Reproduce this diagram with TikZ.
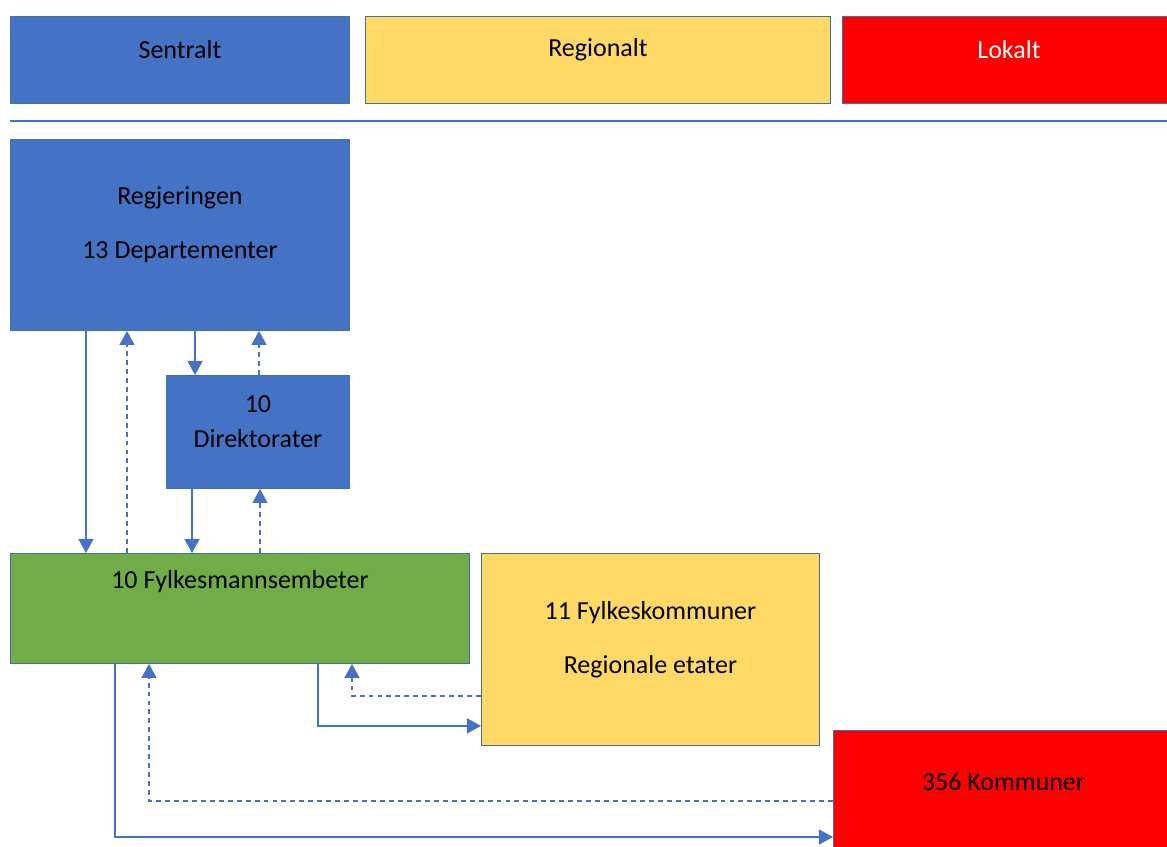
\documentclass[tikz,border=0pt]{standalone}
\usepackage{fontspec}
\setmainfont{Carlito}
\usetikzlibrary{arrows.meta,calc}

\definecolor{sentblue}{HTML}{4472C4}
\definecolor{regyellow}{HTML}{FFD966}
\definecolor{lokred}{HTML}{FF0000}
\definecolor{fmgreen}{HTML}{70AD47}
\definecolor{edge}{HTML}{41719C}

\newlength\px
\setlength\px{0.02cm}

\begin{document}
\begin{tikzpicture}[x=0.02cm, y=-0.02cm, font=\fontsize{14.8}{19.8}\selectfont,
    box/.style = {draw=edge, line width=0.5pt, anchor=north west, inner sep=0pt},
    txt/.style = {align=center, yshift=10\px},
    arr/.style = {draw=sentblue, line width=1pt, -{Triangle[length=8pt, width=8.5pt]}},
    back/.style = {arr, dash pattern=on 2.8pt off 2.3pt}]

    \useasboundingbox (0,0) rectangle (1167,846);

    % headings
    \node[box, fill=sentblue, minimum width=339\px, minimum height=87\px,
          label={[txt]center:Sentralt}] (sent) at (10,16) {};
    \node[box, fill=regyellow, minimum width=465\px, minimum height=87\px,
          label={[txt]center:Regionalt}] (regn) at (365,16) {};
    \node[box, fill=lokred, minimum width=333\px, minimum height=87\px,
          label={[txt, text=white]center:Lokalt}] (lok) at (842,16) {};

    \draw[sentblue, line width=0.7pt] (sent.south west |- 0,121) coordinate (s1) -- (s1 -| 1170,0);

    % levels
    \node[box, fill=sentblue, minimum width=339\px, minimum height=191\px,
          label={[txt]center:Regjeringen\\[10.8pt]13 Departementer}] (regj) at (10,139) {};
    \node[box, fill=sentblue, minimum width=183\px, minimum height=113\px,
          label={[txt]center:10\\Direktorater}] (dir) at (166,375) {};
    \node[box, fill=fmgreen, minimum width=459\px, minimum height=110\px,
          label={[txt, yshift=17\px]center:10 Fylkesmannsembeter}] (fm) at (10,553) {};
    \node[box, fill=regyellow, minimum width=338\px, minimum height=192\px,
          label={[txt]center:11 Fylkeskommuner\\[10.8pt]Regionale etater}] (fk) at (481,553) {};
    \node[box, fill=lokred, minimum width=340\px, minimum height=122\px,
          label={[txt]center:356 Kommuner}] (kom) at (833,730) {};

    % regjeringen <-> fylkesmann
    \draw[arr] ($(regj.south west)+(76,0)$) coordinate (a1) -- (a1 |- fm.north);
    \draw[back] ($(fm.north west)+(117,0)$) coordinate (a2) -- (a2 |- regj.south);

    % regjeringen <-> direktorater
    \draw[arr] ($(regj.south west)+(185,0)$) coordinate (a3) -- (a3 |- dir.north);
    \draw[back] ($(dir.north west)+(93,0)$) coordinate (a4) -- (a4 |- regj.south);

    % direktorater <-> fylkesmann
    \draw[arr] ($(dir.south west)+(26,0)$) coordinate (a5) -- (a5 |- fm.north);
    \draw[back] ($(fm.north west)+(250,0)$) coordinate (a6) -- (a6 |- dir.south);

    % fylkesmann <-> fylkeskommuner
    \draw[arr] ($(fm.south west)+(308,0)$) |- ($(fk.south west)+(0,-20)$);
    \draw[back] ($(fk.south west)+(0,-50)$) -| ($(fm.south west)+(342,0)$);

    % fylkesmann <-> kommuner
    \draw[arr] ($(fm.south west)+(105,0)$) |- ($(kom.north west)+(0,107)$);
    \draw[back] ($(kom.north west)+(0,71)$) -| ($(fm.south west)+(139,0)$);

\end{tikzpicture}
\end{document}
